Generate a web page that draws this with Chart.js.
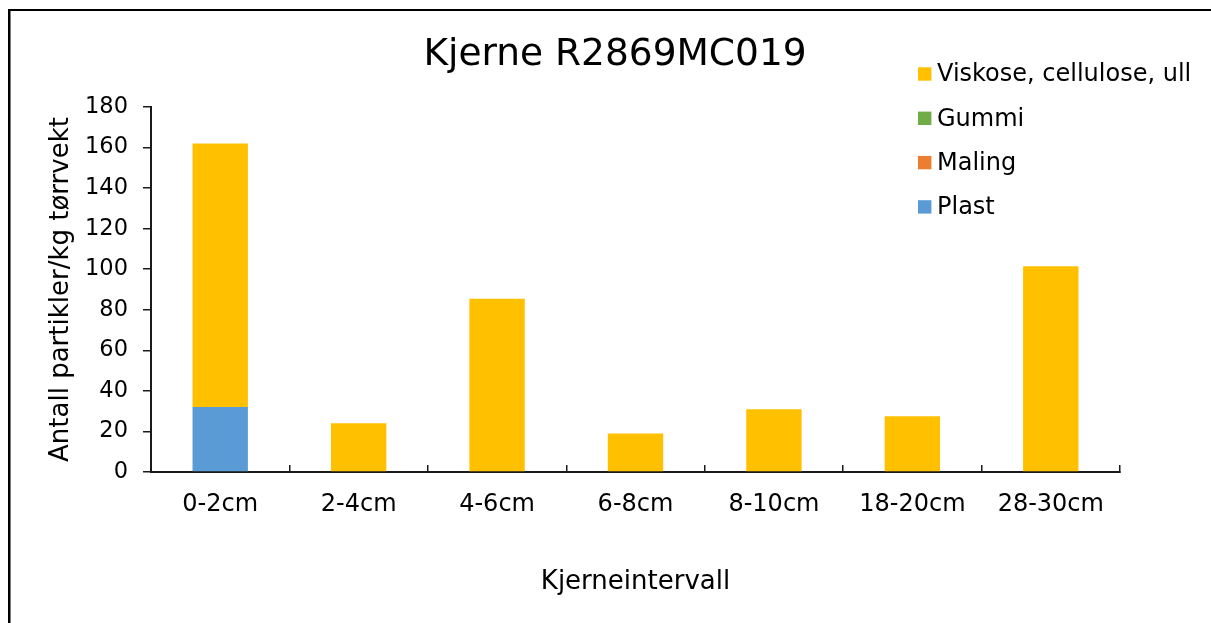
<!DOCTYPE html>
<html>
<head>
<meta charset="utf-8">
<title>Kjerne R2869MC019</title>
<script src="https://cdn.jsdelivr.net/npm/chart.js@4.4.1/dist/chart.umd.min.js"></script>
<style>
  body { margin: 0; background: #fff; }
  #wrap { width: 1211px; height: 623px; }
</style>
</head>
<body>
<div id="wrap"><canvas id="chart" width="1211" height="623"></canvas></div>
<script>
// data
const chartTitle = 'Kjerne R2869MC019';
const intervals = ['0-2cm', '2-4cm', '4-6cm', '6-8cm', '8-10cm', '18-20cm', '28-30cm'];
const plast   = [32, 0, 0, 0, 0, 0, 0];
const maling  = [0, 0, 0, 0, 0, 0, 0];
const gummi   = [0, 0, 0, 0, 0, 0, 0];
const viskose = [130, 24, 85.5, 19, 31, 27.5, 101.5];
const yMax = 180;
const yStep = 20;

const FONT = "'DejaVu Sans', Verdana, sans-serif";
const AXIS = '#1a1a1a';

Chart.defaults.font.family = FONT;
Chart.defaults.color = '#000';

// frame, title and the legend that sits inside the plot
const decor = {
  id: 'decor',
  beforeDraw(chart) {
    const ctx = chart.ctx;
    ctx.save();
    ctx.fillStyle = '#fff';
    ctx.fillRect(0, 0, chart.width, chart.height);
    ctx.restore();
  },
  afterDraw(chart) {
    const ctx = chart.ctx;
    ctx.save();
    ctx.fillStyle = '#000';
    ctx.fillRect(8, 9, 2.5, chart.height);
    ctx.fillRect(8, 9, chart.width, 2);

    ctx.font = '37.5px ' + FONT;
    ctx.textAlign = 'center';
    ctx.textBaseline = 'middle';
    ctx.fillText(chartTitle, 615, 55);

    ctx.font = '24px ' + FONT;
    ctx.textAlign = 'left';
    const items = chart.data.datasets.slice().reverse();
    items.forEach((ds, i) => {
      const y = 74 + i * 44.3;
      ctx.fillStyle = ds.backgroundColor;
      ctx.fillRect(918, y - 6.7, 13.4, 13.4);
      ctx.fillStyle = '#000';
      ctx.fillText(ds.label, 937, y + 1);
    });
    ctx.restore();
  }
};

new Chart(document.getElementById('chart'), {
  type: 'bar',
  data: {
    labels: intervals,
    datasets: [
      { label: 'Plast', data: plast, backgroundColor: '#5B9BD5' },
      { label: 'Maling', data: maling, backgroundColor: '#ED7D31' },
      { label: 'Gummi', data: gummi, backgroundColor: '#70AD47' },
      { label: 'Viskose, cellulose, ull', data: viskose, backgroundColor: '#FFC000' }
    ]
  },
  options: {
    responsive: false,
    animation: false,
    categoryPercentage: 0.4,
    barPercentage: 1,
    layout: { padding: { left: 12, right: 91, top: 107, bottom: 0 } },
    plugins: {
      legend: { display: false },
      title: { display: false },
      tooltip: { enabled: false }
    },
    scales: {
      x: {
        stacked: true,
        offset: true,
        grid: {
          offset: true,
          drawOnChartArea: false,
          drawTicks: true,
          tickLength: -7,
          color: AXIS,
          lineWidth: 1.5
        },
        border: { display: true, color: AXIS, width: 2 },
        ticks: { font: { size: 24 }, padding: 25, color: '#000' },
        title: {
          display: true,
          text: 'Kjerneintervall',
          font: { size: 26 },
          color: '#000',
          padding: { top: 0, bottom: 25 }
        },
        afterFit(scale) { scale.height = 151; }
      },
      y: {
        stacked: true,
        min: 0,
        max: yMax,
        ticks: { stepSize: yStep, font: { size: 22.5 }, padding: 15, color: '#000' },
        grid: {
          drawOnChartArea: false,
          drawTicks: true,
          tickLength: 8,
          color: AXIS,
          lineWidth: 1.5
        },
        border: { display: true, color: AXIS, width: 2 },
        title: {
          display: true,
          text: 'Antall partikler/kg tørrvekt',
          font: { size: 26 },
          color: '#000',
          padding: { top: 34, bottom: 0 }
        },
        afterFit(scale) { scale.width = 139; }
      }
    }
  },
  plugins: [decor]
});
</script>
</body>
</html>
